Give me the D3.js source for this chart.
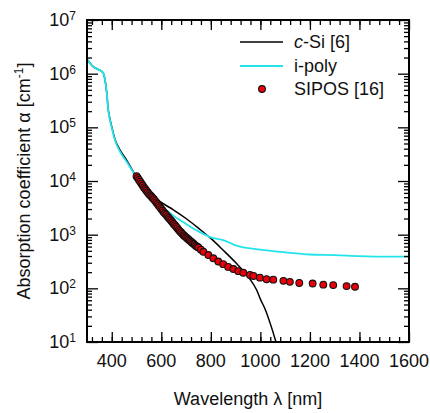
<!DOCTYPE html>
<html>
<head>
<meta charset="utf-8">
<script src="https://cdn.jsdelivr.net/npm/d3@7"></script>
<style>
  body { margin: 0; background: #fff; }
  text { font-family: "Liberation Sans", Arial, sans-serif; fill: #111; }
</style>
</head>
<body>
<div id="chart"></div>
<script>
// c-Si [6] reference curve
var csiWavelength = [300, 325, 350, 360, 367, 373, 380, 386, 393, 400, 413, 433, 460, 487, 500, 530, 560, 600, 650, 700, 750, 800, 850, 900, 950, 985, 1000, 1020, 1040, 1063];
var csiAlpha = [1860000, 1350000, 1170000, 1100000, 1000000, 760000, 427000, 209000, 141000, 102000, 60000, 38000, 24500, 14800, 11700, 7940, 5500, 3980, 2880, 2000, 1320, 851, 513, 302, 166, 93, 63, 40, 22, 10];

// i-poly curve
var polyWavelength = [300, 325, 350, 360, 367, 373, 380, 386, 393, 400, 413, 433, 460, 487, 500, 530, 560, 600, 650, 700, 750, 800, 850, 900, 1000, 1100, 1200, 1300, 1400, 1500, 1600];
var polyAlpha = [1860000, 1350000, 1170000, 1100000, 1000000, 760000, 427000, 209000, 135000, 98000, 57500, 35500, 22900, 14500, 11700, 7590, 5010, 3390, 2240, 1585, 1150, 891, 794, 631, 525, 468, 427, 417, 398, 389, 389];

// SIPOS [16] measured points
var siposWavelength = [500, 505, 510, 515, 520, 525, 530, 535, 540, 545, 550, 555, 560, 565, 570, 575, 580, 585, 590, 595, 600, 605, 610, 615, 620, 625, 630, 635, 640, 645, 650, 655, 660, 665, 670, 675, 680, 685, 690, 695, 700, 705, 710, 715, 720, 725, 730, 735, 740, 745, 750, 760, 770, 790, 810, 830, 850, 870, 891, 911, 931, 958, 972, 998, 1025, 1052, 1093, 1119, 1157, 1211, 1254, 1294, 1348, 1382];
var siposAlpha = [12300, 11350, 10470, 9660, 8910, 8220, 7590, 7080, 6610, 6170, 5750, 5430, 5130, 4840, 4570, 4270, 3980, 3720, 3470, 3240, 3020, 2820, 2630, 2480, 2340, 2190, 2040, 1930, 1820, 1700, 1585, 1500, 1410, 1320, 1230, 1160, 1100, 1035, 977, 933, 891, 851, 813, 776, 741, 708, 676, 646, 617, 596, 575, 525, 479, 417, 363, 316, 282, 251, 229, 209, 195, 178, 170, 158, 148, 145, 138, 132, 126, 123, 117, 115, 110, 107];

var xTickLabels = [400, 600, 800, 1000, 1200, 1400, 1600];
var yDecades = [1, 2, 3, 4, 5, 6, 7];

var W = 430, H = 413;
var margin = {top: 20, right: 21, bottom: 71, left: 87};
var width = W - margin.left - margin.right,
    height = H - margin.top - margin.bottom;

var svg = d3.select("#chart").append("svg")
    .attr("width", W)
    .attr("height", H);

var g = svg.append("g")
    .attr("transform", "translate(" + margin.left + "," + margin.top + ")");

var x = d3.scaleLinear().domain([300, 1600]).range([0, width]);
var y = d3.scaleLog().domain([10, 1e7]).range([height, 0]);

// clip curves to the frame
g.append("clipPath").attr("id", "clip")
  .append("rect").attr("width", width).attr("height", height);

var line = d3.line()
    .x(function(d) { return x(d[0]); })
    .y(function(d) { return y(d[1]); })
    .curve(d3.curveMonotoneX);

var csi = d3.zip(csiWavelength, csiAlpha);
var poly = d3.zip(polyWavelength, polyAlpha);
var sipos = d3.zip(siposWavelength, siposAlpha);

var plot = g.append("g").attr("clip-path", "url(#clip)");

plot.append("path")
    .datum(csi)
    .attr("fill", "none")
    .attr("stroke", "#000")
    .attr("stroke-width", 1.5)
    .attr("d", line);

plot.append("path")
    .datum(poly)
    .attr("fill", "none")
    .attr("stroke", "#22e4ec")
    .attr("stroke-width", 1.8)
    .attr("d", line);

plot.selectAll("circle.sipos")
    .data(sipos)
    .enter().append("circle")
    .attr("class", "sipos")
    .attr("cx", function(d) { return x(d[0]); })
    .attr("cy", function(d) { return y(d[1]); })
    .attr("r", 3.4)
    .attr("fill", "#e8000a")
    .attr("stroke", "#111")
    .attr("stroke-width", 1.1);

// ticks: inward on all four sides
var xMinor = d3.range(320, 1600, 40);
var xMajor = d3.range(400, 1601, 200);
var yMinor = [];
yDecades.slice(0, -1).forEach(function(p) {
  d3.range(2, 10).forEach(function(m) { yMinor.push(m * Math.pow(10, p)); });
});
var yMajor = yDecades.map(function(p) { return Math.pow(10, p); });

g.append("g").attr("transform", "translate(0," + height + ")")
    .call(d3.axisBottom(x).tickValues(xMinor).tickSize(-5).tickFormat(""));
g.append("g").attr("transform", "translate(0," + height + ")")
    .call(d3.axisBottom(x).tickValues(xMajor).tickSize(-10).tickFormat(""));
g.append("g")
    .call(d3.axisTop(x).tickValues(xMinor).tickSize(-5).tickFormat(""));
g.append("g")
    .call(d3.axisTop(x).tickValues(xMajor).tickSize(-10).tickFormat(""));
g.append("g")
    .call(d3.axisLeft(y).tickValues(yMinor).tickSize(-5).tickFormat(""));
g.append("g")
    .call(d3.axisLeft(y).tickValues(yMajor).tickSize(-11).tickFormat(""));
g.append("g").attr("transform", "translate(" + width + ",0)")
    .call(d3.axisRight(y).tickValues(yMinor).tickSize(-5).tickFormat(""));
g.append("g").attr("transform", "translate(" + width + ",0)")
    .call(d3.axisRight(y).tickValues(yMajor).tickSize(-11).tickFormat(""));

g.selectAll(".domain").remove();
g.selectAll(".tick line").attr("stroke", "#000").attr("stroke-width", 1.3);

g.append("rect")
    .attr("width", width)
    .attr("height", height)
    .attr("fill", "none")
    .attr("stroke", "#000")
    .attr("stroke-width", 2);

// tick labels
g.selectAll("text.xlab")
    .data(xTickLabels)
    .enter().append("text")
    .attr("class", "xlab")
    .attr("x", function(d) { return x(d); })
    .attr("y", height + 25)
    .attr("text-anchor", "middle")
    .attr("font-size", "18px")
    .text(function(d) { return d; });

var ylab = g.selectAll("text.ylab")
    .data(yDecades)
    .enter().append("text")
    .attr("class", "ylab")
    .attr("x", -11)
    .attr("y", function(d) { return y(Math.pow(10, d)) + 6; })
    .attr("text-anchor", "end")
    .attr("font-size", "18px");
ylab.append("tspan").text("10");
ylab.append("tspan")
    .attr("font-size", "12px")
    .attr("dy", -6)
    .text(function(d) { return d; });

// axis titles
svg.append("text")
    .attr("x", margin.left + width / 2)
    .attr("y", 405)
    .attr("text-anchor", "middle")
    .attr("font-size", "18px")
    .text("Wavelength \u03bb [nm]");

var ytitle = svg.append("text")
    .attr("transform", "translate(30," + (margin.top + height / 2) + ") rotate(-90)")
    .attr("text-anchor", "middle")
    .attr("font-size", "18px");
ytitle.append("tspan").text("Absorption coefficient \u03b1 [cm");
ytitle.append("tspan").attr("font-size", "12px").attr("dy", -7).text("-1");
ytitle.append("tspan").attr("dy", 7).text("]");

// legend
var legend = svg.append("g");
var legendItems = [
  {label: "Si [6]", prefix: "c", type: "line", color: "#000", y: 42},
  {label: "i-poly", type: "line", color: "#22e4ec", y: 66},
  {label: "SIPOS [16]", type: "dot", y: 89}
];
legendItems.forEach(function(item) {
  if (item.type == "line") {
    legend.append("line")
      .attr("x1", 240).attr("x2", 283)
      .attr("y1", item.y).attr("y2", item.y)
      .attr("stroke", item.color)
      .attr("stroke-width", item.color == "#000" ? 1.5 : 1.8);
  } else {
    legend.append("circle")
      .attr("cx", 262).attr("cy", item.y).attr("r", 3.4)
      .attr("fill", "#e8000a").attr("stroke", "#111").attr("stroke-width", 1.1);
  }
  var t = legend.append("text")
    .attr("x", 294)
    .attr("y", item.y + 6)
    .attr("font-size", "18px");
  if (item.prefix) {
    t.append("tspan").attr("font-style", "italic").text(item.prefix);
    t.append("tspan").text("-" + item.label);
  } else {
    t.text(item.label);
  }
});
</script>
</body>
</html>
